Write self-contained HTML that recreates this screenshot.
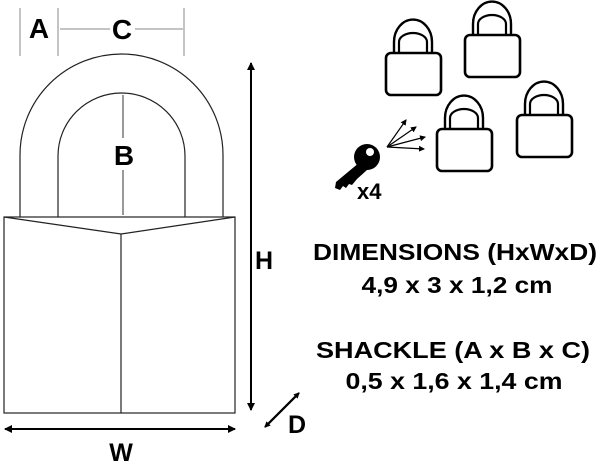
<!DOCTYPE html>
<html><head><meta charset="utf-8"><style>html,body{margin:0;padding:0;background:#fff}svg{display:block}</style></head>
<body>
<svg width="600" height="465" viewBox="0 0 600 465" xmlns="http://www.w3.org/2000/svg" font-family="Liberation Sans, sans-serif" font-weight="bold">
<defs>
<marker id="ah" markerWidth="8" markerHeight="8" refX="7" refY="4" orient="auto" markerUnits="userSpaceOnUse"><path d="M0,0 L8,4 L0,8 Z" fill="#000"/></marker>
<marker id="ahs" markerWidth="6" markerHeight="6" refX="5" refY="3" orient="auto" markerUnits="userSpaceOnUse"><path d="M0,0 L6,3 L0,6 Z" fill="#000"/></marker>
</defs>
<g stroke="#888" stroke-width="1" fill="none">
<line x1="20" y1="8" x2="20" y2="56"/>
<line x1="58" y1="8" x2="58" y2="56"/>
<line x1="184" y1="8" x2="184" y2="56"/>
<line x1="60" y1="29" x2="110" y2="29"/>
<line x1="135" y1="29" x2="183" y2="29"/>
</g>
<g stroke="#333" stroke-width="1" fill="none">
<line x1="123" y1="95" x2="123" y2="138"/>
<line x1="123" y1="170" x2="123" y2="215"/>
</g>
<text x="39" y="38" font-size="28" text-anchor="middle">A</text>
<text x="122" y="39" font-size="28" text-anchor="middle">C</text>
<text x="124" y="165" font-size="28" text-anchor="middle">B</text>
<g stroke="#222" stroke-width="1.2" fill="none">
<path d="M20,217 L20,155 A101.5,101 0 0 1 223,155 L223,217"/>
<path d="M58,217 L58,156 A63.5,63 0 0 1 185,156 L185,217"/>
<rect x="4" y="217" width="231" height="196"/>
<path d="M4,217 L121,234 L235,217"/>
<line x1="121" y1="234" x2="121" y2="413"/>
</g>
<g stroke="#000" stroke-width="2" fill="none">
<line x1="251" y1="410" x2="251" y2="63" marker-end="url(#ah)"/>
<line x1="251" y1="66" x2="251" y2="410" marker-end="url(#ah)"/>
<line x1="8" y1="429" x2="235" y2="429" marker-end="url(#ah)"/>
<line x1="232" y1="429" x2="5" y2="429" marker-end="url(#ah)"/>
<line x1="266" y1="426" x2="299" y2="393" marker-end="url(#ahs)"/>
<line x1="297" y1="395" x2="265" y2="427" marker-end="url(#ahs)"/>
</g>
<text x="264" y="269" font-size="25" text-anchor="middle">H</text>
<text x="121" y="461" font-size="25" text-anchor="middle">W</text>
<text x="297" y="433" font-size="25" text-anchor="middle">D</text>
<g stroke="#000" fill="none">
<g transform="translate(385,22)">
<path d="M9,31 V20 A11,13 0 0 1 47,20 V31" stroke-width="2.4"/><path d="M14,31 V20 A14,9 0 0 1 42,20 V31" stroke-width="2.2"/>
<rect x="1" y="31" width="55" height="42" rx="5" stroke-width="2.6"/></g>
<g transform="translate(464,4)">
<path d="M9,31 V20 A11,13 0 0 1 47,20 V31" stroke-width="2.4"/><path d="M14,31 V20 A14,9 0 0 1 42,20 V31" stroke-width="2.2"/>
<rect x="1" y="31" width="55" height="42" rx="5" stroke-width="2.6"/></g>
<g transform="translate(436,98)">
<path d="M9,31 V20 A11,13 0 0 1 47,20 V31" stroke-width="2.4"/><path d="M14,31 V20 A14,9 0 0 1 42,20 V31" stroke-width="2.2"/>
<rect x="1" y="31" width="55" height="42" rx="5" stroke-width="2.6"/></g>
<g transform="translate(516,84)">
<path d="M9,31 V20 A11,13 0 0 1 47,20 V31" stroke-width="2.4"/><path d="M14,31 V20 A14,9 0 0 1 42,20 V31" stroke-width="2.2"/>
<rect x="1" y="31" width="55" height="42" rx="5" stroke-width="2.6"/></g>
</g>
<circle cx="367" cy="157" r="13" fill="#000"/>
<circle cx="370" cy="152" r="4" fill="#fff"/>
<path d="M360,162 L336,182 L335,188 L340,190 L343,186 L346,188 L349,184 L352,185 L357,179 L367,170 Z" fill="#000"/>
<g stroke="#000" stroke-width="1.2">
<line x1="387" y1="147" x2="406" y2="120" marker-end="url(#ahs)"/>
<line x1="387" y1="147" x2="416" y2="127" marker-end="url(#ahs)"/>
<line x1="387" y1="147" x2="425" y2="137" marker-end="url(#ahs)"/>
<line x1="387" y1="147" x2="424" y2="149" marker-end="url(#ahs)"/>
</g>
<text x="357" y="199" font-size="22">x4</text>
<g font-size="23" text-anchor="middle" fill="#000">
<text x="455" y="260" textLength="284" lengthAdjust="spacingAndGlyphs">DIMENSIONS (HxWxD)</text>
<text x="457" y="293" textLength="191" lengthAdjust="spacingAndGlyphs">4,9 x 3 x 1,2 cm</text>
<text x="453" y="358" textLength="274" lengthAdjust="spacingAndGlyphs">SHACKLE (A x B x C)</text>
<text x="454" y="389" textLength="217" lengthAdjust="spacingAndGlyphs">0,5 x 1,6 x 1,4 cm</text>
</g>
</svg>
</body></html>
